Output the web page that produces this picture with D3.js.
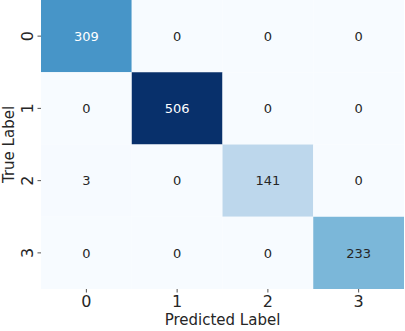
<!DOCTYPE html>
<html><head><meta charset="utf-8">
<script src="https://cdn.jsdelivr.net/npm/d3@7"></script>
<style>body{margin:0;background:#fff}svg{display:block}text{font-family:"DejaVu Sans",sans-serif}</style>
</head><body><svg id="c" width="405" height="331"></svg>
<script>
const predLabels = ["0","1","2","3"];
const trueLabels = ["0","1","2","3"];
const row0 = [309, 0, 0, 0];
const row1 = [0, 506, 0, 0];
const row2 = [3, 0, 141, 0];
const row3 = [0, 0, 0, 233];
const matrix = [row0, row1, row2, row3];

const svg = d3.select("#c");
const L = 41, R = 404, T = 0, B = 289;
const x = d3.scaleBand().domain(predLabels).range([L, R]);
const y = d3.scaleBand().domain(trueLabels).range([T, B]);
const vmax = d3.max(matrix.flat());
const blues = ["#f7fbff","#deebf7","#c6dbef","#9ecae1","#6baed6","#4292c6","#2171b5","#08519c","#08306b"];
const color = d3.scaleLinear().domain(blues.map((_, i) => i / 8 * vmax)).range(blues).interpolate(d3.interpolateRgb);

const cells = [];
matrix.forEach((r, i) => r.forEach((v, j) => cells.push({t: trueLabels[i], p: predLabels[j], v})));

svg.selectAll("rect.cell").data(cells).join("rect")
  .attr("x", d => x(d.p)).attr("y", d => y(d.t))
  .attr("width", x.bandwidth()).attr("height", y.bandwidth())
  .attr("fill", d => color(d.v));

function lum(c) {
  const k = d3.rgb(c);
  const f = v => { v /= 255; return v <= 0.03928 ? v / 12.92 : Math.pow((v + 0.055) / 1.055, 2.4); };
  return 0.2126 * f(k.r) + 0.7152 * f(k.g) + 0.0722 * f(k.b);
}
svg.selectAll("text.ann").data(cells).join("text")
  .attr("x", d => x(d.p) + x.bandwidth() / 2)
  .attr("y", d => y(d.t) + y.bandwidth() / 2)
  .attr("dy", "0.36em").attr("text-anchor", "middle")
  .attr("font-size", 13)
  .attr("fill", d => lum(color(d.v)) > 0.408 ? "#262626" : "#ffffff")
  .text(d => d.v);

// bottom axis
const xa = svg.append("g").attr("transform", `translate(0,${B})`).call(d3.axisBottom(x).tickSize(3.5).tickPadding(3));
xa.select(".domain").remove();
xa.selectAll("line").attr("stroke", "#262626").attr("stroke-width", 0.8);
xa.selectAll("text").attr("font-size", 16).attr("fill", "#262626").attr("font-family", "DejaVu Sans");

// left axis
const ya = svg.append("g").attr("transform", `translate(${L},0)`).call(d3.axisLeft(y).tickSize(3.5).tickPadding(4));
ya.select(".domain").remove();
ya.selectAll("line").attr("stroke", "#262626").attr("stroke-width", 0.8);
ya.selectAll("text").attr("font-size", 16).attr("fill", "#262626").attr("font-family", "DejaVu Sans")
  .attr("x", null).attr("dy", null).attr("text-anchor", "middle")
  .attr("transform", "translate(-8,0) rotate(-90)");

svg.append("text").attr("x", (L + R) / 2).attr("y", 325).attr("text-anchor", "middle")
  .attr("font-size", 15).attr("fill", "#262626").text("Predicted Label");
svg.append("text").attr("transform", `translate(14,${(T + B) / 2}) rotate(-90)`).attr("text-anchor", "middle")
  .attr("font-size", 15).attr("fill", "#262626").text("True Label");
</script></body></html>
